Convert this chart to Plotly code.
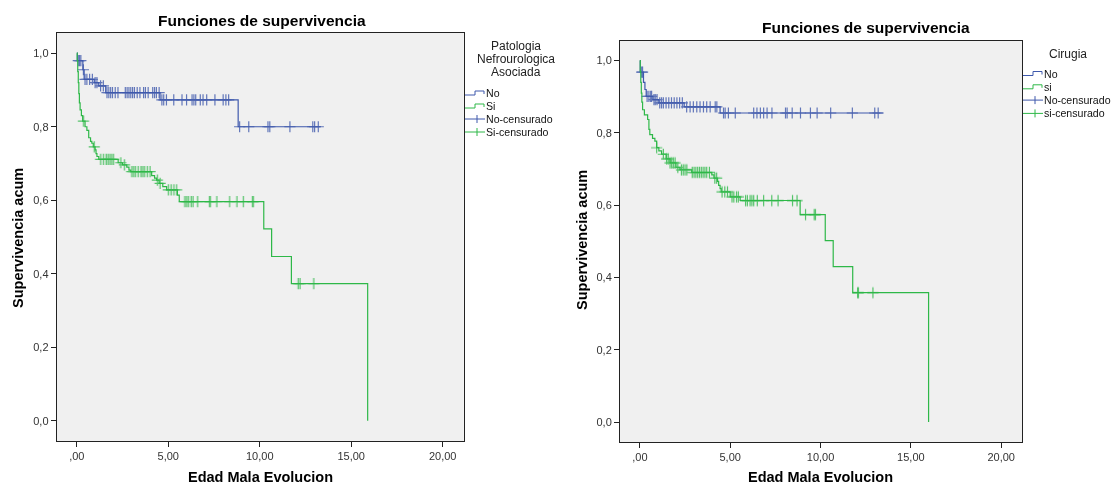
import numpy as np
import plotly.graph_objects as go

W, H = 1113, 486

BLUE = "#3E58AC"
GREEN = "#2EB848"
FONT = "Arial, Liberation Sans, sans-serif"

# ---------------- Panel 1: Patologia Nefrourologica Asociada ----------------
pna_no_event_t = [0.03, 0.33, 0.40, 0.95, 1.20, 1.58, 4.55, 8.82]
pna_no_event_s = [0.980, 0.955, 0.929, 0.920, 0.911, 0.893, 0.873, 0.800]
pna_no_end = 13.35
pna_no_cens_t = [0.08, 0.15, 0.22, 0.36, 0.45, 0.55, 0.70, 0.85, 1.00, 1.10, 1.30, 1.45,
                 1.65, 1.75, 1.85, 1.95, 2.10, 2.25, 2.65, 2.75, 2.85, 2.95, 3.05, 3.15,
                 3.30, 3.45, 3.65, 3.75, 3.90, 4.15, 4.25, 4.35, 4.50, 4.65, 4.75, 4.90,
                 5.30, 5.75, 6.00, 6.30, 6.40, 6.50, 6.75, 6.90, 7.10, 7.55, 8.00, 8.15,
                 8.30, 8.90, 9.40, 10.45, 10.55, 11.65, 12.90, 13.00, 13.20]

pna_si_event_t = [0.02, 0.05, 0.08, 0.11, 0.14, 0.18, 0.25, 0.32, 0.45, 0.55, 0.65, 0.75,
                  0.82, 0.90, 1.00, 1.05, 1.10, 1.20, 2.26, 2.50, 2.73, 2.85, 2.95, 4.09,
                  4.25, 4.36, 4.50, 4.70, 4.91, 5.50, 5.60, 10.22, 10.65, 11.73, 15.90]
pna_si_event_s = [0.980, 0.950, 0.920, 0.890, 0.865, 0.846, 0.830, 0.815, 0.800, 0.790,
                  0.770, 0.760, 0.755, 0.745, 0.737, 0.727, 0.719, 0.711, 0.702, 0.696,
                  0.690, 0.682, 0.678, 0.667, 0.660, 0.655, 0.646, 0.637, 0.628, 0.614,
                  0.596, 0.522, 0.447, 0.373, 0.000]
pna_si_end = 15.90
pna_si_cens_t = [0.36, 0.95, 1.30, 1.45, 1.60, 1.70, 1.80, 1.90, 2.00, 2.40, 2.60, 3.00,
                 3.10, 3.20, 3.35, 3.50, 3.60, 3.70, 3.85, 4.00, 4.40, 4.55, 5.00, 5.15,
                 5.30, 5.45, 5.90, 6.00, 6.10, 6.25, 6.35, 6.60, 7.25, 7.30, 7.65, 8.35,
                 8.75, 9.10, 9.60, 9.65, 12.10, 12.20, 12.95]

# ---------------- Panel 2: Cirugia ----------------
cir_no_event_t = [0.02, 0.20, 0.28, 0.35, 0.72, 1.05, 2.45, 4.44]
cir_no_event_s = [0.968, 0.940, 0.920, 0.901, 0.892, 0.883, 0.872, 0.855]
cir_no_end = 13.45
cir_no_cens_t = [0.10, 0.15, 0.40, 0.50, 0.60, 0.65, 0.78, 0.85, 0.95, 1.10, 1.20, 1.30,
                 1.45, 1.60, 1.75, 1.90, 2.05, 2.20, 2.35, 2.59, 2.78, 2.96, 3.15, 3.33,
                 3.52, 3.70, 3.89, 4.17, 4.26, 4.63, 4.72, 4.90, 5.28, 6.30, 6.48, 6.67,
                 6.85, 7.04, 7.31, 8.06, 8.15, 8.43, 8.89, 9.44, 9.81, 10.56, 11.76, 13.00,
                 13.19]

cir_si_event_t = [0.02, 0.05, 0.08, 0.11, 0.15, 0.25, 0.43, 0.50, 0.55, 0.70, 0.83, 0.93,
                  1.05, 1.20, 1.45, 1.67, 2.00, 2.22, 2.87, 3.98, 4.10, 4.30, 4.36, 4.44,
                  4.50, 5.00, 5.55, 8.87, 10.26, 10.70, 11.78, 15.98]
cir_si_event_s = [0.970, 0.940, 0.910, 0.885, 0.864, 0.850, 0.837, 0.810, 0.795, 0.785,
                  0.777, 0.759, 0.750, 0.741, 0.728, 0.717, 0.705, 0.698, 0.691, 0.684,
                  0.675, 0.666, 0.655, 0.646, 0.637, 0.623, 0.613, 0.574, 0.502, 0.430,
                  0.358, 0.000]
cir_si_end = 15.98
cir_si_cens_t = [0.93, 1.30, 1.48, 1.57, 1.67, 1.76, 1.85, 1.95, 2.10, 2.30, 2.40, 2.50,
                 2.60, 2.90, 3.00, 3.10, 3.20, 3.30, 3.40, 3.50, 3.60, 3.70, 3.85, 4.15,
                 4.25, 4.55, 4.70, 4.85, 5.10, 5.20, 5.35, 5.45, 5.85, 5.95, 6.10, 6.20,
                 6.30, 6.50, 6.85, 7.30, 7.65, 8.45, 8.70, 9.17, 9.65, 9.72, 12.05, 12.10,
                 12.90]

y_tick_vals = [0.0, 0.2, 0.4, 0.6, 0.8, 1.0]
y_tick_text = ["0,0", "0,2", "0,4", "0,6", "0,8", "1,0"]
x_tick_vals = [0, 5, 10, 15, 20]
x_tick_text = [",00", "5,00", "10,00", "15,00", "20,00"]

panel_titles = ["Funciones de supervivencia", "Funciones de supervivencia"]
x_title = "Edad Mala Evolucion"
y_title = "Supervivencia acum"


def km_step(event_t, event_s, end_t):
    x = [0.0] + list(event_t) + [end_t]
    y = [1.0] + list(event_s) + [event_s[-1]]
    return x, y


def surv_at(times, event_t, event_s):
    idx = np.searchsorted(np.asarray(event_t), np.asarray(times), side="right") - 1
    s = np.asarray(event_s)
    return np.where(idx >= 0, s[np.clip(idx, 0, None)], 1.0)


def px(x):
    return x / W


def py(y):
    return 1 - y / H


fig = go.Figure()

groups = [
    ("x", "y", pna_no_event_t, pna_no_event_s, pna_no_end, pna_no_cens_t, BLUE),
    ("x", "y", pna_si_event_t, pna_si_event_s, pna_si_end, pna_si_cens_t, GREEN),
    ("x2", "y2", cir_no_event_t, cir_no_event_s, cir_no_end, cir_no_cens_t, BLUE),
    ("x2", "y2", cir_si_event_t, cir_si_event_s, cir_si_end, cir_si_cens_t, GREEN),
]

for xa, ya, et, es, end, ct, col in groups:
    sx, sy = km_step(et, es, end)
    fig.add_trace(go.Scatter(x=sx, y=sy, mode="lines", line=dict(color=col, width=1.2, shape="hv"),
                             xaxis=xa, yaxis=ya, showlegend=False, hoverinfo="skip"))
    cy = surv_at(ct, et, es)
    fig.add_trace(go.Scatter(x=ct, y=cy, mode="markers",
                             marker=dict(symbol="cross-thin", size=8, color=col,
                                         line=dict(color=col, width=1.2)),
                             opacity=0.8, xaxis=xa, yaxis=ya, showlegend=False, hoverinfo="skip"))

axis_common = dict(showgrid=False, zeroline=False, showline=True, mirror=True,
                   linecolor="#222222", linewidth=1, ticks="outside", ticklen=5,
                   tickcolor="#222222", tickfont=dict(family=FONT, size=11, color="#333333"))

xr = [-1.1, 21.15]
yr = [-0.055, 1.055]

fig.update_layout(
    width=W, height=H, autosize=False,
    margin=dict(l=0, r=0, t=0, b=0),
    paper_bgcolor="white", plot_bgcolor="#F0F0F0",
    showlegend=False,
    xaxis=dict(domain=[px(56.7), px(463.7)], range=xr, tickvals=x_tick_vals, ticktext=x_tick_text,
               anchor="y", **axis_common),
    yaxis=dict(domain=[py(441), py(33)], range=yr, tickvals=y_tick_vals, ticktext=y_tick_text,
               anchor="x", **axis_common),
    xaxis2=dict(domain=[px(620), px(1022)], range=xr, tickvals=x_tick_vals, ticktext=x_tick_text,
                anchor="y2", **axis_common),
    yaxis2=dict(domain=[py(442), py(40.7)], range=yr, tickvals=y_tick_vals, ticktext=y_tick_text,
                anchor="x2", **axis_common),
)

annotations = []
shapes = []


def text(x, y, s, size, bold=False, angle=0, xanchor="center", color="#000000"):
    annotations.append(dict(x=px(x), y=py(y), xref="paper", yref="paper",
                            text=f"<b>{s}</b>" if bold else s, showarrow=False,
                            xanchor=xanchor, yanchor="middle", textangle=angle,
                            borderpad=0,
                            font=dict(family=FONT, size=size, color=color)))


# titles
text(262, 20, panel_titles[0], 15.5, bold=True)
text(866, 28, panel_titles[1], 15.5, bold=True)
text(260, 477, x_title, 14.5, bold=True)
text(820, 477, x_title, 14.5, bold=True)
text(18, 238, y_title, 14.5, bold=True, angle=-90)
text(582, 240, y_title, 14.5, bold=True, angle=-90)


def legend_block(x0, title_lines, title_x, title_y0, title_dy, item_y0, item_dy, labels):
    for i, line in enumerate(title_lines):
        text(title_x, title_y0 + i * title_dy, line, 12, color="#222222")
    cols = [BLUE, GREEN, BLUE, GREEN]
    for i, (lab, col) in enumerate(zip(labels, cols)):
        yc = item_y0 + i * item_dy
        if i < 2:
            path = (f"M {px(x0)},{py(yc + 2)} L {px(x0 + 10)},{py(yc + 2)} "
                    f"L {px(x0 + 10)},{py(yc - 2)} L {px(x0 + 19)},{py(yc - 2)} "
                    f"L {px(x0 + 19)},{py(yc + 1)}")
            shapes.append(dict(type="path", path=path, xref="paper", yref="paper",
                               line=dict(color=col, width=1)))
        else:
            shapes.append(dict(type="line", x0=px(x0), x1=px(x0 + 20), y0=py(yc), y1=py(yc),
                               xref="paper", yref="paper", line=dict(color=col, width=1)))
            shapes.append(dict(type="line", x0=px(x0 + 12), x1=px(x0 + 12), y0=py(yc - 4),
                               y1=py(yc + 4), xref="paper", yref="paper",
                               line=dict(color=col, width=1)))
        text(x0 + 19.5, yc, lab, 10.6, xanchor="left", color="#111111")


legend_block(465, ["Patologia", "Nefrourologica", "Asociada"], 516, 45.5, 13.5, 93, 13,
             ["No", "Si", "No-censurado", "Si-censurado"])
legend_block(1023, ["Cirugia"], 1068, 54, 13, 73.5, 13.3,
             ["No", "si", "No-censurado", "si-censurado"])

fig.update_layout(annotations=annotations, shapes=shapes)

fig.write_html("out.html")
